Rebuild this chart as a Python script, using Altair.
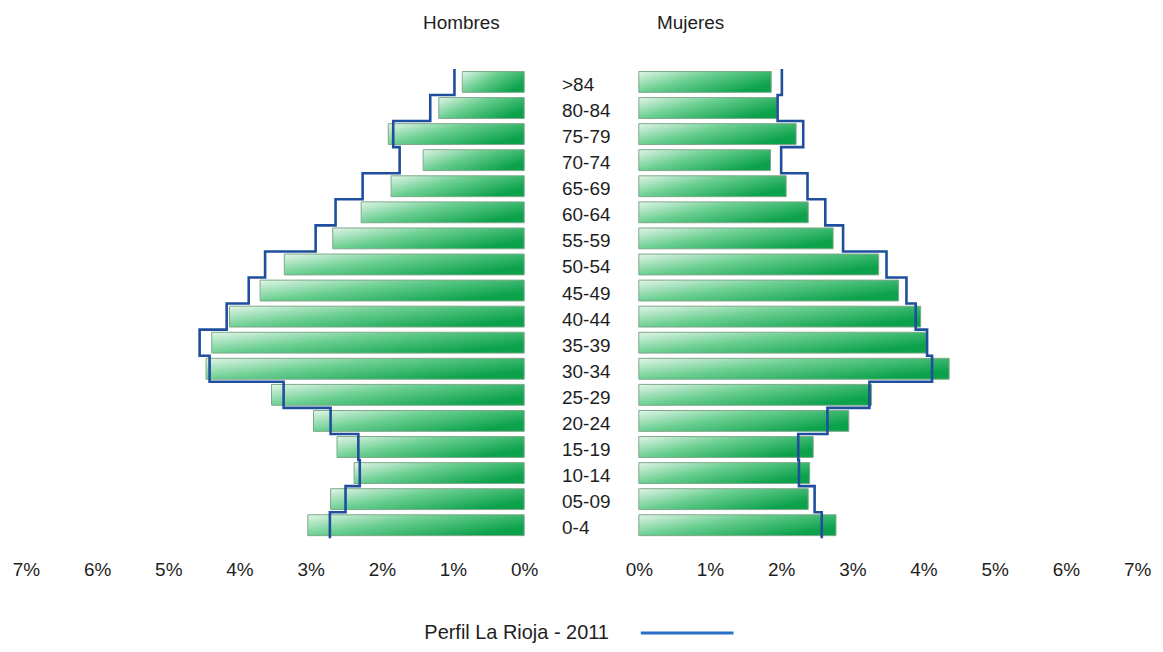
import altair as alt
import pandas as pd

ages = [">84", "80-84", "75-79", "70-74", "65-69", "60-64", "55-59", "50-54", "45-49",
        "40-44", "35-39", "30-34", "25-29", "20-24", "15-19", "10-14", "05-09", "0-4"]
hombres = [0.87, 1.20, 1.91, 1.42, 1.87, 2.29, 2.69, 3.37, 3.71,
           4.14, 4.39, 4.47, 3.55, 2.96, 2.63, 2.39, 2.72, 3.04]
hombres_rioja = [0.98, 1.32, 1.84, 1.75, 2.27, 2.65, 2.93, 3.64, 3.87,
                 4.18, 4.56, 4.42, 3.38, 2.72, 2.33, 2.31, 2.51, 2.73]
mujeres = [1.86, 1.94, 2.21, 1.85, 2.07, 2.38, 2.73, 3.37, 3.65,
           3.96, 4.04, 4.36, 3.27, 2.95, 2.45, 2.40, 2.38, 2.77]
mujeres_rioja = [2.01, 1.95, 2.31, 2.00, 2.37, 2.62, 2.87, 3.48, 3.76,
                 3.89, 4.05, 4.12, 3.24, 2.65, 2.24, 2.25, 2.47, 2.57]
x_ticks = [0, 1, 2, 3, 4, 5, 6, 7]
legend_label = "Perfil La Rioja - 2011"
panel_titles = ["Hombres", "Mujeres"]

FONT = "Liberation Sans"
FS = 19
TXT = "#1e1e1e"
LINE = "#1f4f9c"
N = len(ages)

def bars_df(vals):
    return pd.DataFrame({
        "age": ages, "v": vals,
        "y0": [i - 0.4 for i in range(N)], "y1": [i + 0.4 for i in range(N)],
    })

def step_df(vals):
    rows = []
    k = 0
    for i, v in enumerate(vals):
        rows.append({"v": v, "y": i - 0.5, "o": k}); k += 1
        rows.append({"v": v, "y": i + 0.5, "o": k}); k += 1
    return pd.DataFrame(rows)

yscale = alt.Scale(domain=[-0.5, N - 0.5], nice=False, zero=False, reverse=True)
grad = alt.Gradient(
    gradient="linear", x1=0, x2=1, y1=0, y2=0.6,
    stops=[alt.GradientStop(color="#e2f5e8", offset=0),
           alt.GradientStop(color="#6ccf92", offset=0.45),
           alt.GradientStop(color="#0ca24c", offset=1)])

def panel(vals, line_vals, reverse, title, title_x):
    xs = alt.Scale(domain=[0, 7], nice=False, reverse=reverse)
    xaxis = alt.Axis(values=x_ticks, labelExpr="datum.value + '%'", title=None,
                     domain=False, ticks=False, grid=False, labelFlush=False,
                     labelPadding=22, labelFontSize=FS, labelFont=FONT,
                     labelColor=TXT)
    b = alt.Chart(bars_df(vals)).mark_rect(
        fill=grad, stroke="#7ea98a", strokeWidth=1
    ).encode(
        x=alt.X("zero:Q", scale=xs, axis=xaxis),
        x2="v:Q",
        y=alt.Y("y0:Q", scale=yscale, axis=None),
        y2="y1:Q",
    ).transform_calculate(zero="0")
    ln = alt.Chart(step_df(line_vals)).mark_line(
        color=LINE, strokeWidth=2.6, strokeJoin="miter"
    ).encode(
        x=alt.X("v:Q", scale=xs),
        y=alt.Y("y:Q", scale=yscale),
        order="o:Q",
    )
    t = alt.Chart(pd.DataFrame({"t": [title]})).mark_text(
        font=FONT, fontSize=FS, color=TXT, align="center", baseline="middle"
    ).encode(text="t:N", x=alt.value(title_x), y=alt.value(-46))
    return alt.layer(b, ln, t).properties(width=500, height=471)

left = panel(hombres, hombres_rioja, True, panel_titles[0], 437)
right = panel(mujeres, mujeres_rioja, False, panel_titles[1], 52)

mid_labels = alt.Chart(pd.DataFrame({"age": ages, "i": list(range(N))})).mark_text(
    font=FONT, fontSize=FS, color=TXT, align="left", baseline="middle", dy=3
).encode(
    text="age:N",
    x=alt.value(38),
    y=alt.Y("i:Q", scale=yscale, axis=None),
)
leg_text = alt.Chart(pd.DataFrame({"t": [legend_label]})).mark_text(
    font=FONT, fontSize=20, color=TXT, align="right", baseline="middle"
).encode(text="t:N", x=alt.value(85), y=alt.value(566))
leg_line = alt.Chart(pd.DataFrame({"t": [legend_label]})).mark_rule(
    color="#2a6fc6", strokeWidth=3
).encode(x=alt.value(117), x2=alt.value(210), y=alt.value(566))
mid = alt.layer(mid_labels, leg_text, leg_line).properties(width=115, height=471)

chart = alt.hconcat(left, mid, right, spacing=0, bounds="flush").properties(
    padding={"left": 4, "right": 4, "top": 5, "bottom": 0},
    background="white",
).configure_view(strokeWidth=0, stroke="transparent")

chart.save("out.html", embed_options={"renderer": "svg", "actions": False})
